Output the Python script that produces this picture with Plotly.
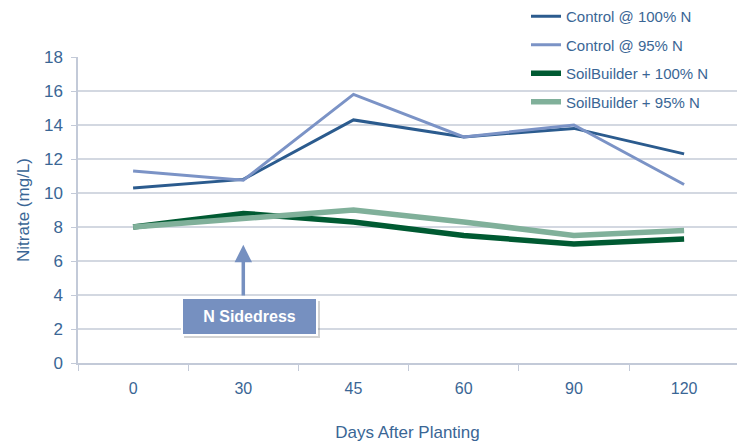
import plotly.graph_objects as go

days = ["0", "30", "45", "60", "90", "120"]
control_100 = [10.3, 10.8, 14.3, 13.3, 13.8, 12.3]
control_95 = [11.3, 10.75, 15.8, 13.3, 14.0, 10.5]
soil_100 = [8.0, 8.8, 8.3, 7.5, 7.0, 7.3]
soil_95 = [8.0, 8.5, 9.0, 8.3, 7.5, 7.8]
y_ticks = [0, 2, 4, 6, 8, 10, 12, 14, 16, 18]

TXT = "#3A6695"
FONT = "Liberation Sans, Arial, sans-serif"

L, T, PW, PH = 78, 57, 659, 306

fig = go.Figure()
series = [
    ("Control @ 100% N", control_100, "#2B5B8E", 3),
    ("Control @ 95% N", control_95, "#7B93C6", 3),
    ("SoilBuilder + 100% N", soil_100, "#005A32", 5.5),
    ("SoilBuilder + 95% N", soil_95, "#80B09A", 5.5),
]
for name, vals, col, w in series:
    fig.add_trace(go.Scatter(x=days, y=vals, mode="lines", name=name,
                             legendgroup=name,
                             line=dict(color=col, width=w)))

# arrow
fig.add_annotation(x=1, y=6.95, ax=1, ay=3.85, xref="x", yref="y",
                   axref="x", ayref="y", text=" ", font=dict(size=1),
                   showarrow=True, arrowhead=2, arrowsize=1.0, arrowwidth=3.5,
                   arrowcolor="#7690C0", standoff=0, startstandoff=0)


def px(xp):
    return (xp - L) / PW


def py(yp):
    return (T + PH - yp) / PH


# shadow
fig.add_shape(type="rect", xref="paper", yref="paper",
              x0=px(184), x1=px(320), y0=py(338), y1=py(301),
              fillcolor="rgba(110,110,110,0.3)", line=dict(width=0),
              layer="above")
fig.add_annotation(x=px(249.5), y=py(316.5), xref="paper", yref="paper",
                   xanchor="center", yanchor="middle",
                   text="<b>N Sidedress</b>",
                   showarrow=False, font=dict(color="white", size=16, family=FONT),
                   bgcolor="#7690C0", bordercolor="white", borderwidth=2,
                   width=131, height=33, align="center", valign="middle")

fig.update_layout(
    width=737, height=445,
    margin=dict(l=L, r=737 - L - PW, t=T, b=445 - T - PH, autoexpand=False),
    paper_bgcolor="white", plot_bgcolor="white",
    font=dict(family=FONT, color=TXT, size=15),
    showlegend=True,
    legend=dict(x=px(526), y=py(0), xanchor="left", yanchor="top",
                bgcolor="rgba(0,0,0,0)", font=dict(size=15, color=TXT, family=FONT),
                itemwidth=30, tracegroupgap=6),
    xaxis=dict(type="category", range=[-0.5, 5.48], showgrid=False,
               showline=True, linecolor="#C3CAD8", linewidth=1.5,
               ticks="outside", tickson="boundaries", ticklen=6,
               tickcolor="#C3CAD8", tickfont=dict(size=16, color=TXT),
               ticklabelstandoff=10,
               title=dict(text="Days After Planting", font=dict(size=17, color=TXT),
                          standoff=30)),
    yaxis=dict(range=[0, 18], tickvals=y_ticks, showgrid=True,
               gridcolor="#D3D8E1", gridwidth=1.5, zeroline=False,
               showline=True, linecolor="#C3CAD8", linewidth=1.5,
               ticks="outside", ticklen=5, tickcolor="#C3CAD8",
               tickfont=dict(size=17, color=TXT), ticklabelstandoff=5,
               title=dict(text="Nitrate (mg/L)", font=dict(size=17, color=TXT),
                          standoff=10)),
)

fig.write_html("out.html", config={"displayModeBar": False},
               post_script="document.body.style.margin='0';")
